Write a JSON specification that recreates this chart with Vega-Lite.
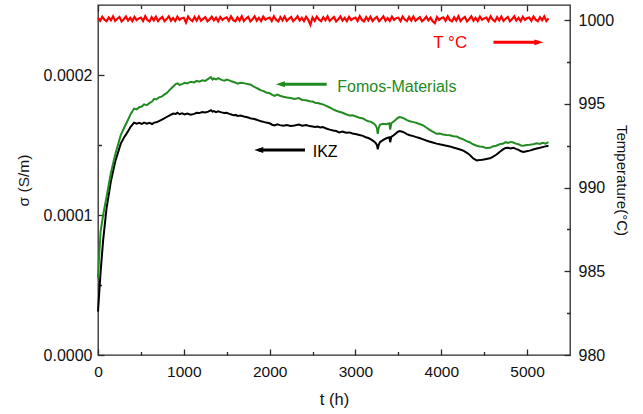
{
  "$schema": "https://vega.github.io/schema/vega-lite/v6.json",
  "width": 472,
  "height": 350,
  "autosize": {"type": "none"},
  "padding": {"left": 98, "top": 5, "right": 73, "bottom": 59},
  "background": "white",
  "config": {
    "view": {"stroke": "#2a2a2a", "strokeWidth": 1.3},
    "font": "Liberation Sans",
    "axis": {
      "grid": false,
      "domain": false,
      "offset": -6,
      "tickSize": 6,
      "tickColor": "#2a2a2a",
      "tickWidth": 1.3,
      "labelColor": "#111111",
      "titleColor": "#111111",
      "labelFont": "Liberation Sans",
      "titleFont": "Liberation Sans",
      "titleFontWeight": "normal",
      "labelFlush": false,
      "labelOverlap": false
    }
  },
  "datasets": {
    "fomos": [
      {"t": 0, "s": 5.5e-5}, {"t": 15, "s": 7.2e-5}, {"t": 30, "s": 8.8e-5}, {"t": 60, "s": 1.0e-4},
      {"t": 100, "s": 1.13e-4}, {"t": 150, "s": 1.30e-4}, {"t": 200, "s": 1.43e-4}, {"t": 265, "s": 1.57e-4},
      {"t": 310, "s": 1.63e-4}, {"t": 342, "s": 1.67e-4}, {"t": 380, "s": 1.72e-4}, {"t": 420, "s": 1.76e-4},
      {"t": 450, "s": 1.755e-4}, {"t": 480, "s": 1.77e-4}, {"t": 510, "s": 1.775e-4}, {"t": 537, "s": 1.79e-4},
      {"t": 570, "s": 1.785e-4}, {"t": 600, "s": 1.80e-4}, {"t": 630, "s": 1.81e-4}, {"t": 654, "s": 1.83e-4},
      {"t": 680, "s": 1.825e-4}, {"t": 710, "s": 1.84e-4}, {"t": 740, "s": 1.845e-4}, {"t": 771, "s": 1.86e-4},
      {"t": 800, "s": 1.87e-4}, {"t": 830, "s": 1.89e-4}, {"t": 855, "s": 1.905e-4}, {"t": 880, "s": 1.92e-4},
      {"t": 905, "s": 1.935e-4}, {"t": 927, "s": 1.94e-4}, {"t": 950, "s": 1.93e-4}, {"t": 980, "s": 1.935e-4},
      {"t": 1010, "s": 1.945e-4}, {"t": 1040, "s": 1.94e-4}, {"t": 1080, "s": 1.952e-4}, {"t": 1121, "s": 1.947e-4},
      {"t": 1150, "s": 1.958e-4}, {"t": 1180, "s": 1.952e-4}, {"t": 1215, "s": 1.962e-4}, {"t": 1250, "s": 1.958e-4},
      {"t": 1285, "s": 1.972e-4}, {"t": 1316, "s": 1.985e-4}, {"t": 1335, "s": 1.968e-4}, {"t": 1350, "s": 1.975e-4},
      {"t": 1375, "s": 1.968e-4}, {"t": 1400, "s": 1.978e-4}, {"t": 1440, "s": 1.965e-4}, {"t": 1472, "s": 1.96e-4},
      {"t": 1500, "s": 1.968e-4}, {"t": 1530, "s": 1.962e-4}, {"t": 1555, "s": 1.955e-4}, {"t": 1580, "s": 1.95e-4},
      {"t": 1605, "s": 1.945e-4}, {"t": 1627, "s": 1.938e-4}, {"t": 1660, "s": 1.945e-4}, {"t": 1700, "s": 1.942e-4},
      {"t": 1740, "s": 1.935e-4}, {"t": 1783, "s": 1.93e-4}, {"t": 1810, "s": 1.918e-4}, {"t": 1840, "s": 1.91e-4},
      {"t": 1870, "s": 1.90e-4}, {"t": 1900, "s": 1.89e-4}, {"t": 1930, "s": 1.885e-4}, {"t": 1960, "s": 1.875e-4},
      {"t": 2000, "s": 1.87e-4}, {"t": 2030, "s": 1.858e-4}, {"t": 2056, "s": 1.85e-4}, {"t": 2090, "s": 1.86e-4},
      {"t": 2120, "s": 1.852e-4}, {"t": 2160, "s": 1.845e-4}, {"t": 2200, "s": 1.84e-4}, {"t": 2245, "s": 1.835e-4},
      {"t": 2290, "s": 1.828e-4}, {"t": 2340, "s": 1.835e-4}, {"t": 2380, "s": 1.822e-4}, {"t": 2426, "s": 1.82e-4},
      {"t": 2465, "s": 1.812e-4}, {"t": 2500, "s": 1.81e-4}, {"t": 2530, "s": 1.802e-4}, {"t": 2560, "s": 1.80e-4},
      {"t": 2590, "s": 1.795e-4}, {"t": 2620, "s": 1.79e-4}, {"t": 2660, "s": 1.78e-4}, {"t": 2700, "s": 1.768e-4},
      {"t": 2740, "s": 1.755e-4}, {"t": 2776, "s": 1.745e-4}, {"t": 2810, "s": 1.738e-4}, {"t": 2850, "s": 1.73e-4},
      {"t": 2890, "s": 1.72e-4}, {"t": 2932, "s": 1.71e-4}, {"t": 2965, "s": 1.712e-4}, {"t": 3000, "s": 1.705e-4},
      {"t": 3045, "s": 1.695e-4}, {"t": 3088, "s": 1.69e-4}, {"t": 3120, "s": 1.678e-4}, {"t": 3150, "s": 1.67e-4},
      {"t": 3180, "s": 1.665e-4}, {"t": 3210, "s": 1.655e-4}, {"t": 3235, "s": 1.64e-4}, {"t": 3250, "s": 1.62e-4},
      {"t": 3260, "s": 1.58e-4}, {"t": 3270, "s": 1.62e-4}, {"t": 3285, "s": 1.645e-4}, {"t": 3320, "s": 1.652e-4},
      {"t": 3360, "s": 1.648e-4}, {"t": 3395, "s": 1.655e-4}, {"t": 3405, "s": 1.61e-4}, {"t": 3418, "s": 1.655e-4},
      {"t": 3445, "s": 1.668e-4}, {"t": 3470, "s": 1.68e-4}, {"t": 3495, "s": 1.695e-4}, {"t": 3516, "s": 1.70e-4},
      {"t": 3545, "s": 1.695e-4}, {"t": 3570, "s": 1.688e-4}, {"t": 3600, "s": 1.678e-4}, {"t": 3633, "s": 1.67e-4},
      {"t": 3665, "s": 1.665e-4}, {"t": 3700, "s": 1.66e-4}, {"t": 3745, "s": 1.65e-4}, {"t": 3789, "s": 1.64e-4},
      {"t": 3825, "s": 1.625e-4}, {"t": 3860, "s": 1.61e-4}, {"t": 3900, "s": 1.595e-4}, {"t": 3945, "s": 1.58e-4},
      {"t": 3980, "s": 1.582e-4}, {"t": 4020, "s": 1.575e-4}, {"t": 4060, "s": 1.572e-4}, {"t": 4100, "s": 1.57e-4},
      {"t": 4140, "s": 1.562e-4}, {"t": 4180, "s": 1.56e-4}, {"t": 4220, "s": 1.548e-4}, {"t": 4256, "s": 1.54e-4},
      {"t": 4295, "s": 1.528e-4}, {"t": 4330, "s": 1.52e-4}, {"t": 4370, "s": 1.505e-4}, {"t": 4412, "s": 1.495e-4},
      {"t": 4445, "s": 1.49e-4}, {"t": 4480, "s": 1.487e-4}, {"t": 4525, "s": 1.478e-4}, {"t": 4568, "s": 1.48e-4},
      {"t": 4600, "s": 1.49e-4}, {"t": 4640, "s": 1.495e-4}, {"t": 4680, "s": 1.505e-4}, {"t": 4723, "s": 1.51e-4},
      {"t": 4750, "s": 1.52e-4}, {"t": 4780, "s": 1.515e-4}, {"t": 4810, "s": 1.522e-4}, {"t": 4840, "s": 1.518e-4},
      {"t": 4870, "s": 1.51e-4}, {"t": 4900, "s": 1.505e-4}, {"t": 4930, "s": 1.497e-4}, {"t": 4957, "s": 1.495e-4},
      {"t": 4995, "s": 1.50e-4}, {"t": 5030, "s": 1.502e-4}, {"t": 5070, "s": 1.505e-4}, {"t": 5113, "s": 1.512e-4},
      {"t": 5150, "s": 1.508e-4}, {"t": 5180, "s": 1.515e-4}, {"t": 5215, "s": 1.51e-4}, {"t": 5249, "s": 1.52e-4}
    ],
    "ikz": [
      {"t": 0, "s": 3.1e-5}, {"t": 15, "s": 4.5e-5}, {"t": 30, "s": 5.9e-5}, {"t": 60, "s": 8.2e-5},
      {"t": 100, "s": 1.05e-4}, {"t": 150, "s": 1.24e-4}, {"t": 200, "s": 1.38e-4}, {"t": 265, "s": 1.51e-4},
      {"t": 310, "s": 1.56e-4}, {"t": 342, "s": 1.59e-4}, {"t": 380, "s": 1.63e-4}, {"t": 420, "s": 1.66e-4},
      {"t": 450, "s": 1.652e-4}, {"t": 480, "s": 1.658e-4}, {"t": 510, "s": 1.65e-4}, {"t": 537, "s": 1.66e-4},
      {"t": 570, "s": 1.652e-4}, {"t": 600, "s": 1.658e-4}, {"t": 630, "s": 1.65e-4}, {"t": 654, "s": 1.66e-4},
      {"t": 680, "s": 1.662e-4}, {"t": 710, "s": 1.67e-4}, {"t": 740, "s": 1.68e-4}, {"t": 771, "s": 1.69e-4},
      {"t": 800, "s": 1.70e-4}, {"t": 830, "s": 1.71e-4}, {"t": 855, "s": 1.718e-4}, {"t": 880, "s": 1.725e-4},
      {"t": 905, "s": 1.722e-4}, {"t": 927, "s": 1.73e-4}, {"t": 950, "s": 1.72e-4}, {"t": 980, "s": 1.726e-4},
      {"t": 1010, "s": 1.718e-4}, {"t": 1040, "s": 1.725e-4}, {"t": 1080, "s": 1.716e-4}, {"t": 1121, "s": 1.722e-4},
      {"t": 1150, "s": 1.73e-4}, {"t": 1180, "s": 1.728e-4}, {"t": 1215, "s": 1.736e-4}, {"t": 1250, "s": 1.732e-4},
      {"t": 1285, "s": 1.738e-4}, {"t": 1316, "s": 1.748e-4}, {"t": 1335, "s": 1.738e-4}, {"t": 1350, "s": 1.742e-4},
      {"t": 1375, "s": 1.735e-4}, {"t": 1400, "s": 1.74e-4}, {"t": 1440, "s": 1.733e-4}, {"t": 1472, "s": 1.728e-4},
      {"t": 1500, "s": 1.73e-4}, {"t": 1530, "s": 1.722e-4}, {"t": 1555, "s": 1.718e-4}, {"t": 1580, "s": 1.712e-4},
      {"t": 1605, "s": 1.715e-4}, {"t": 1627, "s": 1.708e-4}, {"t": 1660, "s": 1.71e-4}, {"t": 1700, "s": 1.703e-4},
      {"t": 1740, "s": 1.698e-4}, {"t": 1783, "s": 1.69e-4}, {"t": 1810, "s": 1.688e-4}, {"t": 1840, "s": 1.682e-4},
      {"t": 1870, "s": 1.676e-4}, {"t": 1900, "s": 1.67e-4}, {"t": 1930, "s": 1.665e-4}, {"t": 1960, "s": 1.66e-4},
      {"t": 2000, "s": 1.655e-4}, {"t": 2030, "s": 1.645e-4}, {"t": 2056, "s": 1.64e-4}, {"t": 2090, "s": 1.648e-4},
      {"t": 2120, "s": 1.642e-4}, {"t": 2160, "s": 1.638e-4}, {"t": 2200, "s": 1.642e-4}, {"t": 2245, "s": 1.636e-4},
      {"t": 2290, "s": 1.64e-4}, {"t": 2340, "s": 1.646e-4}, {"t": 2380, "s": 1.638e-4}, {"t": 2426, "s": 1.642e-4},
      {"t": 2465, "s": 1.635e-4}, {"t": 2500, "s": 1.632e-4}, {"t": 2530, "s": 1.628e-4}, {"t": 2560, "s": 1.632e-4},
      {"t": 2590, "s": 1.625e-4}, {"t": 2620, "s": 1.628e-4}, {"t": 2660, "s": 1.618e-4}, {"t": 2700, "s": 1.61e-4},
      {"t": 2740, "s": 1.604e-4}, {"t": 2776, "s": 1.60e-4}, {"t": 2810, "s": 1.59e-4}, {"t": 2850, "s": 1.596e-4},
      {"t": 2890, "s": 1.588e-4}, {"t": 2932, "s": 1.59e-4}, {"t": 2965, "s": 1.582e-4}, {"t": 3000, "s": 1.578e-4},
      {"t": 3045, "s": 1.572e-4}, {"t": 3088, "s": 1.565e-4}, {"t": 3120, "s": 1.555e-4}, {"t": 3150, "s": 1.55e-4},
      {"t": 3180, "s": 1.54e-4}, {"t": 3210, "s": 1.528e-4}, {"t": 3235, "s": 1.515e-4}, {"t": 3250, "s": 1.50e-4},
      {"t": 3260, "s": 1.47e-4}, {"t": 3270, "s": 1.50e-4}, {"t": 3285, "s": 1.52e-4}, {"t": 3320, "s": 1.535e-4},
      {"t": 3360, "s": 1.548e-4}, {"t": 3395, "s": 1.555e-4}, {"t": 3405, "s": 1.52e-4}, {"t": 3418, "s": 1.558e-4},
      {"t": 3445, "s": 1.57e-4}, {"t": 3470, "s": 1.582e-4}, {"t": 3495, "s": 1.595e-4}, {"t": 3516, "s": 1.60e-4},
      {"t": 3545, "s": 1.595e-4}, {"t": 3570, "s": 1.588e-4}, {"t": 3600, "s": 1.578e-4}, {"t": 3633, "s": 1.57e-4},
      {"t": 3665, "s": 1.565e-4}, {"t": 3700, "s": 1.558e-4}, {"t": 3745, "s": 1.55e-4}, {"t": 3789, "s": 1.54e-4},
      {"t": 3825, "s": 1.532e-4}, {"t": 3860, "s": 1.525e-4}, {"t": 3900, "s": 1.518e-4}, {"t": 3945, "s": 1.51e-4},
      {"t": 3980, "s": 1.505e-4}, {"t": 4020, "s": 1.50e-4}, {"t": 4060, "s": 1.495e-4}, {"t": 4100, "s": 1.49e-4},
      {"t": 4140, "s": 1.482e-4}, {"t": 4180, "s": 1.475e-4}, {"t": 4220, "s": 1.468e-4}, {"t": 4256, "s": 1.46e-4},
      {"t": 4295, "s": 1.445e-4}, {"t": 4330, "s": 1.43e-4}, {"t": 4370, "s": 1.405e-4}, {"t": 4412, "s": 1.39e-4},
      {"t": 4445, "s": 1.392e-4}, {"t": 4480, "s": 1.395e-4}, {"t": 4525, "s": 1.40e-4}, {"t": 4568, "s": 1.405e-4},
      {"t": 4600, "s": 1.415e-4}, {"t": 4640, "s": 1.43e-4}, {"t": 4680, "s": 1.45e-4}, {"t": 4723, "s": 1.47e-4},
      {"t": 4750, "s": 1.478e-4}, {"t": 4780, "s": 1.48e-4}, {"t": 4810, "s": 1.476e-4}, {"t": 4840, "s": 1.48e-4},
      {"t": 4870, "s": 1.472e-4}, {"t": 4900, "s": 1.465e-4}, {"t": 4930, "s": 1.455e-4}, {"t": 4957, "s": 1.45e-4},
      {"t": 4995, "s": 1.455e-4}, {"t": 5030, "s": 1.46e-4}, {"t": 5070, "s": 1.468e-4}, {"t": 5113, "s": 1.475e-4},
      {"t": 5150, "s": 1.48e-4}, {"t": 5180, "s": 1.485e-4}, {"t": 5215, "s": 1.49e-4}, {"t": 5249, "s": 1.495e-4}
    ],
    "temp": [
      {"t": 0, "T": 1000.12}, {"t": 25, "T": 999.96}, {"t": 50, "T": 1000.2}, {"t": 75, "T": 1000.02}, {"t": 100, "T": 999.93},
      {"t": 125, "T": 1000.16}, {"t": 150, "T": 999.99}, {"t": 175, "T": 1000.22}, {"t": 200, "T": 999.95}, {"t": 225, "T": 1000.08},
      {"t": 250, "T": 1000.18}, {"t": 275, "T": 999.92}, {"t": 300, "T": 1000.05}, {"t": 325, "T": 1000.21}, {"t": 350, "T": 999.97},
      {"t": 375, "T": 1000.13}, {"t": 400, "T": 999.94}, {"t": 425, "T": 1000.19}, {"t": 450, "T": 1000.0}, {"t": 475, "T": 1000.1},
      {"t": 500, "T": 1000.15}, {"t": 525, "T": 999.95}, {"t": 550, "T": 1000.23}, {"t": 575, "T": 1000.01}, {"t": 600, "T": 999.92},
      {"t": 625, "T": 1000.17}, {"t": 650, "T": 999.98}, {"t": 675, "T": 1000.2}, {"t": 700, "T": 999.94}, {"t": 725, "T": 1000.09},
      {"t": 750, "T": 1000.19}, {"t": 775, "T": 999.93}, {"t": 800, "T": 1000.06}, {"t": 825, "T": 1000.22}, {"t": 850, "T": 999.96},
      {"t": 875, "T": 1000.12}, {"t": 900, "T": 999.95}, {"t": 925, "T": 1000.2}, {"t": 950, "T": 1000.01}, {"t": 975, "T": 1000.11},
      {"t": 1000, "T": 1000.14}, {"t": 1025, "T": 999.85}, {"t": 1050, "T": 1000.21}, {"t": 1075, "T": 1000.03}, {"t": 1100, "T": 999.94},
      {"t": 1125, "T": 1000.18}, {"t": 1150, "T": 999.97}, {"t": 1175, "T": 1000.21}, {"t": 1200, "T": 999.96}, {"t": 1225, "T": 1000.07},
      {"t": 1250, "T": 1000.17}, {"t": 1275, "T": 999.93}, {"t": 1300, "T": 1000.04}, {"t": 1325, "T": 1000.2}, {"t": 1350, "T": 999.98},
      {"t": 1375, "T": 1000.14}, {"t": 1400, "T": 999.93}, {"t": 1425, "T": 1000.18}, {"t": 1450, "T": 1000.01}, {"t": 1475, "T": 1000.11},
      {"t": 1500, "T": 1000.16}, {"t": 1525, "T": 999.96}, {"t": 1550, "T": 1000.22}, {"t": 1575, "T": 1000.0}, {"t": 1600, "T": 999.93},
      {"t": 1625, "T": 1000.16}, {"t": 1650, "T": 999.97}, {"t": 1675, "T": 1000.23}, {"t": 1700, "T": 999.95}, {"t": 1725, "T": 1000.09},
      {"t": 1750, "T": 1000.19}, {"t": 1775, "T": 999.92}, {"t": 1800, "T": 1000.05}, {"t": 1825, "T": 1000.22}, {"t": 1850, "T": 999.96},
      {"t": 1875, "T": 1000.13}, {"t": 1900, "T": 999.94}, {"t": 1925, "T": 1000.2}, {"t": 1950, "T": 1000.02}, {"t": 1975, "T": 1000.1},
      {"t": 2000, "T": 1000.15}, {"t": 2025, "T": 999.95}, {"t": 2050, "T": 1000.22}, {"t": 2075, "T": 1000.02}, {"t": 2100, "T": 999.92},
      {"t": 2125, "T": 1000.17}, {"t": 2150, "T": 999.98}, {"t": 2175, "T": 1000.21}, {"t": 2200, "T": 999.95}, {"t": 2225, "T": 1000.08},
      {"t": 2250, "T": 1000.18}, {"t": 2275, "T": 999.93}, {"t": 2300, "T": 1000.06}, {"t": 2325, "T": 1000.22}, {"t": 2350, "T": 999.97},
      {"t": 2375, "T": 1000.13}, {"t": 2400, "T": 999.94}, {"t": 2425, "T": 1000.19}, {"t": 2450, "T": 1000.01}, {"t": 2475, "T": 999.72},
      {"t": 2500, "T": 1000.15}, {"t": 2525, "T": 999.96}, {"t": 2550, "T": 1000.21}, {"t": 2575, "T": 1000.02}, {"t": 2600, "T": 999.93},
      {"t": 2625, "T": 1000.17}, {"t": 2650, "T": 999.99}, {"t": 2675, "T": 1000.22}, {"t": 2700, "T": 999.95}, {"t": 2725, "T": 1000.08},
      {"t": 2750, "T": 1000.18}, {"t": 2775, "T": 999.92}, {"t": 2800, "T": 1000.05}, {"t": 2825, "T": 1000.21}, {"t": 2850, "T": 999.97},
      {"t": 2875, "T": 1000.13}, {"t": 2900, "T": 999.94}, {"t": 2925, "T": 1000.19}, {"t": 2950, "T": 1000.0}, {"t": 2975, "T": 1000.1},
      {"t": 3000, "T": 1000.15}, {"t": 3025, "T": 999.95}, {"t": 3050, "T": 1000.23}, {"t": 3075, "T": 1000.01}, {"t": 3100, "T": 999.92},
      {"t": 3125, "T": 1000.17}, {"t": 3150, "T": 999.98}, {"t": 3175, "T": 1000.2}, {"t": 3200, "T": 999.94}, {"t": 3225, "T": 1000.09},
      {"t": 3250, "T": 1000.19}, {"t": 3275, "T": 999.93}, {"t": 3300, "T": 1000.06}, {"t": 3325, "T": 1000.22}, {"t": 3350, "T": 999.96},
      {"t": 3375, "T": 1000.12}, {"t": 3400, "T": 999.95}, {"t": 3425, "T": 1000.2}, {"t": 3450, "T": 1000.01}, {"t": 3475, "T": 1000.11},
      {"t": 3500, "T": 1000.14}, {"t": 3525, "T": 999.94}, {"t": 3550, "T": 1000.21}, {"t": 3575, "T": 1000.03}, {"t": 3600, "T": 999.94},
      {"t": 3625, "T": 1000.18}, {"t": 3650, "T": 999.97}, {"t": 3675, "T": 1000.21}, {"t": 3700, "T": 999.96}, {"t": 3725, "T": 1000.07},
      {"t": 3750, "T": 1000.17}, {"t": 3775, "T": 999.93}, {"t": 3800, "T": 1000.04}, {"t": 3825, "T": 1000.2}, {"t": 3850, "T": 999.98},
      {"t": 3875, "T": 1000.14}, {"t": 3900, "T": 999.93}, {"t": 3925, "T": 999.82}, {"t": 3950, "T": 1000.18}, {"t": 3975, "T": 1000.01},
      {"t": 4000, "T": 1000.11}, {"t": 4025, "T": 1000.16}, {"t": 4050, "T": 999.96}, {"t": 4075, "T": 1000.22}, {"t": 4100, "T": 1000.0},
      {"t": 4125, "T": 999.93}, {"t": 4150, "T": 1000.16}, {"t": 4175, "T": 999.97}, {"t": 4200, "T": 1000.23}, {"t": 4225, "T": 999.95},
      {"t": 4250, "T": 1000.09}, {"t": 4275, "T": 1000.19}, {"t": 4300, "T": 999.92}, {"t": 4325, "T": 1000.05}, {"t": 4350, "T": 1000.22},
      {"t": 4375, "T": 999.96}, {"t": 4400, "T": 1000.13}, {"t": 4425, "T": 999.94}, {"t": 4450, "T": 1000.2}, {"t": 4475, "T": 1000.02},
      {"t": 4500, "T": 1000.1}, {"t": 4525, "T": 1000.15}, {"t": 4550, "T": 999.95}, {"t": 4575, "T": 1000.22}, {"t": 4600, "T": 1000.02},
      {"t": 4625, "T": 999.92}, {"t": 4650, "T": 1000.17}, {"t": 4675, "T": 999.98}, {"t": 4700, "T": 1000.21}, {"t": 4725, "T": 999.95},
      {"t": 4750, "T": 1000.08}, {"t": 4775, "T": 1000.18}, {"t": 4800, "T": 999.93}, {"t": 4825, "T": 1000.06}, {"t": 4850, "T": 1000.22},
      {"t": 4875, "T": 999.97}, {"t": 4900, "T": 1000.13}, {"t": 4925, "T": 999.94}, {"t": 4950, "T": 1000.19}, {"t": 4975, "T": 1000.01},
      {"t": 5000, "T": 1000.12}, {"t": 5025, "T": 1000.15}, {"t": 5050, "T": 999.96}, {"t": 5075, "T": 1000.21}, {"t": 5100, "T": 1000.02},
      {"t": 5125, "T": 999.93}, {"t": 5150, "T": 1000.17}, {"t": 5175, "T": 999.99}, {"t": 5200, "T": 1000.22}, {"t": 5225, "T": 999.95},
      {"t": 5250, "T": 1000.1}
    ]
  },
  "layer": [
    {
      "encoding": {
        "x": {
          "field": "t",
          "type": "quantitative",
          "scale": {"domain": [0, 5500], "nice": false, "zero": false},
          "axis": {
            "orient": "bottom",
            "title": "t (h)",
            "values": [0, 500, 1000, 1500, 2000, 2500, 3000, 3500, 4000, 4500, 5000],
            "format": "d",
            "labelExpr": "datum.value % 1000 === 0 ? datum.label : ''",
            "tickDash": {"condition": {"test": "datum.value % 1000 === 0", "value": [10, 0]}, "value": [0, 2.5, 3.5, 20]},
            "labelPadding": 9,
            "labelFontSize": 15.5,
            "titleFontSize": 16.5,
            "titlePadding": 12
          }
        },
        "y": {
          "field": "s",
          "type": "quantitative",
          "scale": {"domain": [0, 0.00025], "nice": false, "zero": false},
          "axis": {
            "orient": "left",
            "title": "σ (S/m)",
            "values": [0, 0.00005, 0.0001, 0.00015, 0.0002],
            "format": ".4f",
            "labelExpr": "abs(datum.value * 10000 - round(datum.value * 10000)) < 0.001 ? datum.label : ''",
            "tickDash": {"condition": {"test": "abs(datum.value * 10000 - round(datum.value * 10000)) < 0.001", "value": [10, 0]}, "value": [0, 2.5, 3.5, 20]},
            "labelPadding": 6,
            "labelFontSize": 16,
            "titleFontSize": 15.5,
            "titlePadding": 12
          }
        }
      },
      "layer": [
        {"data": {"name": "ikz"}, "mark": {"type": "line", "color": "#000000", "strokeWidth": 2}},
        {"data": {"name": "fomos"}, "mark": {"type": "line", "color": "#228b22", "strokeWidth": 2}},
        {
          "data": {"values": [{"t": 2126, "t2": 2665, "s": 1.934e-4}]},
          "mark": {"type": "rule", "color": "#228b22", "strokeWidth": 3},
          "encoding": {"x2": {"field": "t2"}}
        },
        {
          "data": {"values": [{"t": 2126, "s": 1.934e-4}]},
          "mark": {"type": "point", "shape": "M-1,0L1,-0.65L1,0.65Z", "filled": true, "opacity": 1, "color": "#228b22", "size": 81}
        },
        {
          "data": {"values": [{"t": 2788, "s": 1.917e-4, "label": "Fomos-Materials"}]},
          "mark": {"type": "text", "align": "left", "baseline": "middle", "fontSize": 16, "color": "#228b22", "font": "Liberation Sans"},
          "encoding": {"text": {"field": "label"}}
        },
        {
          "data": {"values": [{"t": 1873, "t2": 2412, "s": 1.464e-4}]},
          "mark": {"type": "rule", "color": "#000000", "strokeWidth": 3},
          "encoding": {"x2": {"field": "t2"}}
        },
        {
          "data": {"values": [{"t": 1873, "s": 1.464e-4}]},
          "mark": {"type": "point", "shape": "M-1,0L1,-0.65L1,0.65Z", "filled": true, "opacity": 1, "color": "#000000", "size": 81}
        },
        {
          "data": {"values": [{"t": 2502, "s": 1.452e-4, "label": "IKZ"}]},
          "mark": {"type": "text", "align": "left", "baseline": "middle", "fontSize": 16, "color": "#000000", "font": "Liberation Sans"},
          "encoding": {"text": {"field": "label"}}
        }
      ]
    },
    {
      "encoding": {
        "x": {
          "field": "t",
          "type": "quantitative",
          "scale": {"domain": [0, 5500], "nice": false, "zero": false},
          "axis": {
            "orient": "top",
            "title": null,
            "labels": false,
            "values": [0, 500, 1000, 1500, 2000, 2500, 3000, 3500, 4000, 4500, 5000],
            "tickDash": {"condition": {"test": "datum.value % 1000 === 0", "value": [10, 0]}, "value": [0, 2.5, 3.5, 20]}
          }
        },
        "y": {
          "field": "T",
          "type": "quantitative",
          "scale": {"domain": [980, 1000.9], "nice": false, "zero": false},
          "axis": {
            "orient": "right",
            "title": "Temperature(°C)",
            "values": [980, 982.5, 985, 987.5, 990, 992.5, 995, 997.5, 1000],
            "format": "d",
            "labelExpr": "datum.value % 5 === 0 ? datum.label : ''",
            "tickDash": {"condition": {"test": "datum.value % 5 === 0", "value": [10, 0]}, "value": [0, 2.5, 3.5, 20]},
            "labelPadding": 8,
            "labelFontSize": 16,
            "titleFontSize": 15,
            "titlePadding": 0
          }
        }
      },
      "layer": [
        {"data": {"name": "temp"}, "mark": {"type": "line", "color": "#ff0000", "strokeWidth": 2.2}},
        {
          "data": {"values": [{"t": 4608, "t2": 5137, "T": 998.67}]},
          "mark": {"type": "rule", "color": "#ff0000", "strokeWidth": 3},
          "encoding": {"x2": {"field": "t2"}}
        },
        {
          "data": {"values": [{"t": 5137, "T": 998.67}]},
          "mark": {"type": "point", "shape": "M1,0L-1,-0.65L-1,0.65Z", "filled": true, "opacity": 1, "color": "#ff0000", "size": 81}
        },
        {
          "data": {"values": [{"t": 3907, "T": 998.64, "label": "T °C"}]},
          "mark": {"type": "text", "align": "left", "baseline": "middle", "fontSize": 17, "color": "#ff0000", "font": "Liberation Sans"},
          "encoding": {"text": {"field": "label"}}
        }
      ]
    }
  ],
  "resolve": {"scale": {"y": "independent"}, "axis": {"x": "independent", "y": "independent"}}
}
